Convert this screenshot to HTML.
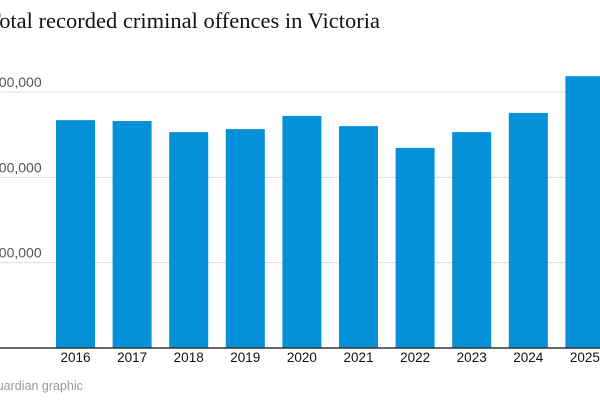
<!DOCTYPE html>
<html><head><meta charset="utf-8"><style>
html,body{margin:0;padding:0;background:#fff;width:600px;height:400px;overflow:hidden}
svg{display:block}
</style></head><body>
<svg id="chart" width="600" height="400">
<text x="-13" y="28" font-family="Liberation Serif, serif" font-size="22.5" fill="#121212" textLength="393">Total recorded criminal offences in Victoria</text>
<g id="grid"></g><g id="bars"></g><g id="xlabels"></g>
<line x1="0" x2="600" y1="348" y2="348" stroke="#333" stroke-width="1.5"/>
<text x="-13" y="390" font-family="Liberation Sans, sans-serif" font-size="12.5" fill="#999">Guardian graphic</text>
</svg>
<script>
const categories=["2016","2017","2018","2019","2020","2021","2022","2023","2024","2025"];
const values=[534000,532000,506000,513000,544000,520000,469000,506000,551000,637000];
const ticks=[200000,400000,600000];
const tickLabels=["200,000","400,000","600,000"];
const NS="http://www.w3.org/2000/svg";
const y0=348,pxPer=256/600000;
const y=v=>y0-v*pxPer;
const x=i=>56+i*56.6;
const bw=39;
const grid=document.getElementById('grid'),bars=document.getElementById('bars'),xl=document.getElementById('xlabels');
ticks.forEach((t,i)=>{
 const l=document.createElementNS(NS,'line');
 l.setAttribute('x1',0);l.setAttribute('x2',600);l.setAttribute('y1',y(t));l.setAttribute('y2',y(t));
 l.setAttribute('stroke','#dcdcdc');l.setAttribute('stroke-width','1');
 
 
 grid.appendChild(l);
 const tx=document.createElementNS(NS,'text');
 tx.setAttribute('x',-9);tx.setAttribute('y',y(t)-5);
 tx.setAttribute('font-family','Liberation Sans, sans-serif');tx.setAttribute('font-size','14');tx.setAttribute('fill','#555');
 tx.textContent=tickLabels[i];
 
 
 grid.appendChild(tx);
});
categories.forEach((c,i)=>{
 const r=document.createElementNS(NS,'rect');
 r.setAttribute('x',x(i));r.setAttribute('width',bw);r.setAttribute('y',y(values[i]));r.setAttribute('height',y0-y(values[i]));
 r.setAttribute('fill','#0591d8');
 
 
 bars.appendChild(r);
 const t=document.createElementNS(NS,'text');
 t.setAttribute('x',x(i)+bw/2);t.setAttribute('y',362);t.setAttribute('text-anchor','middle');
 t.setAttribute('font-family','Liberation Sans, sans-serif');t.setAttribute('font-size','13.5');t.setAttribute('fill','#121212');
 t.textContent=c;
 
 
 xl.appendChild(t);
});
</script>
</body></html>
